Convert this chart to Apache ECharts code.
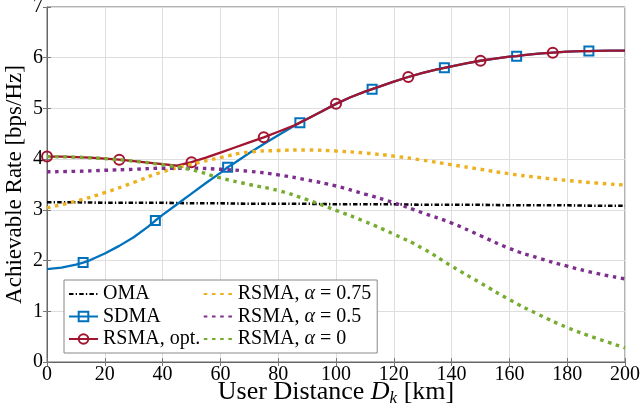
<!DOCTYPE html>
<html><head><meta charset="utf-8">
<script src="https://cdn.jsdelivr.net/npm/echarts@6/dist/echarts.min.js"></script>
<style>html,body{margin:0;padding:0;background:#fff}#c{width:640px;height:411px}</style>
</head><body><div id="c"></div>
<script>
// ---- data ----
const xTicks = [0,20,40,60,80,100,120,140,160,180,200];
const yTicks = [0,1,2,3,4,5,6,7];

const distDot = [0,10,20,30,40,50,60,70,80,90,100,110,120,130,140,150,160,170,180,190,200];
const omaRate  = [3.15,3.15,3.14,3.14,3.14,3.13,3.13,3.12,3.12,3.12,3.11,3.11,3.11,3.10,3.10,3.10,3.09,3.09,3.09,3.08,3.08];
const rsma075  = [3.04,3.17,3.34,3.54,3.75,3.90,4.03,4.14,4.17,4.18,4.16,4.12,4.06,3.98,3.89,3.80,3.71,3.64,3.58,3.53,3.49];
const rsma05   = [3.75,3.76,3.78,3.80,3.82,3.82,3.80,3.76,3.69,3.59,3.47,3.31,3.14,2.94,2.74,2.49,2.24,2.05,1.89,1.75,1.64];
const rsma0    = [4.05,4.04,4.01,3.96,3.89,3.79,3.63,3.50,3.38,3.20,2.99,2.77,2.52,2.24,1.89,1.56,1.23,0.94,0.68,0.47,0.28];

const sdmaDist = [0,5,10,12.5,15,20,25,30,35,37.5,40,45,50,55,60,62.5,65,70,75,80,85,87.5,90,95,100,105,110,112.5,115,120,125,130,135,137.5,140,145,150,155,160,162.5,165,170,175,180,185,187.5,190,195,200];
const sdmaRate = [1.83,1.86,1.92,1.96,2.01,2.14,2.29,2.46,2.67,2.79,2.90,3.11,3.32,3.53,3.73,3.84,3.93,4.12,4.30,4.47,4.64,4.72,4.79,4.94,5.09,5.22,5.33,5.38,5.43,5.53,5.62,5.70,5.77,5.80,5.83,5.89,5.94,5.98,6.02,6.03,6.05,6.08,6.10,6.12,6.13,6.13,6.135,6.14,6.14];
const sdmaMarkers = [12.5,37.5,62.5,87.5,112.5,137.5,162.5,187.5];

const optDist = [0,5,10,15,20,25,30,35,40,45,50,55,60,65,70,75,80,85,87.5,90,95,100,105,110,112.5,115,120,125,130,135,137.5,140,145,150,155,160,162.5,165,170,175,180,185,187.5,190,195,200];
const optRate = [4.05,4.05,4.04,4.03,4.01,3.99,3.96,3.93,3.90,3.87,3.94,4.03,4.13,4.23,4.33,4.43,4.54,4.65,4.72,4.79,4.94,5.09,5.22,5.33,5.38,5.43,5.53,5.62,5.70,5.77,5.80,5.83,5.89,5.94,5.98,6.02,6.03,6.05,6.08,6.10,6.12,6.13,6.13,6.135,6.14,6.14];
const optMarkers = [0,25,50,75,100,125,150,175];

const names = ['OMA','SDMA','RSMA, opt.','RSMA, α = 0.75','RSMA, α = 0.5','RSMA, α = 0'];

// ---- build ----
const FONT = 'Liberation Serif';
function pairs(xs, ys, marks) {
  return xs.map((x, i) => {
    const d = { value: [x, ys[i]] };
    if (marks && marks.indexOf(x) < 0) d.symbol = 'none';
    return d;
  });
}
const dotStyle = (c) => ({ color: c, width: 3.4, type: [3.6, 4.6], cap: 'butt' });
const noSym = { color: 'rgba(0,0,0,0)', borderWidth: 0 };

const chart = echarts.init(document.getElementById('c'), null, { renderer: 'canvas' });
chart.setOption({
  animation: false,
  backgroundColor: '#fff',
  grid: { left: 47, right: 15, top: 7, bottom: 49, outerBoundsMode: 'none', containLabel: false,
          show: true, borderColor: '#666', borderWidth: 1, backgroundColor: 'transparent' },
  legend: {
    orient: 'vertical', left: 64, top: 280, height: 68,
    padding: [4, 6, 4, 4], itemGap: 2.5, itemWidth: 29, itemHeight: 12,
    backgroundColor: '#fff', borderColor: '#888', borderWidth: 1, borderRadius: 0,
    data: [
      { name: names[0], itemStyle: noSym },
      { name: names[1] },
      { name: names[2] },
      { name: names[3], itemStyle: noSym },
      { name: names[4], itemStyle: noSym },
      { name: names[5], itemStyle: noSym }
    ],
    formatter: (n) => n.replace('α', '{i|α}'),
    textStyle: { fontFamily: FONT, fontSize: 20, color: '#000',
      rich: { i: { fontFamily: FONT, fontStyle: 'italic', fontSize: 20, color: '#000' } } }
  },
  xAxis: [{
    type: 'value', min: 0, max: 200, interval: 20,
    name: 'User Distance {i|D}{s|k} [km]', nameLocation: 'middle', nameGap: 15, nameMoveOverlap: false,
    nameTextStyle: { fontFamily: FONT, fontSize: 26, color: '#000', lineHeight: 30, verticalAlign: 'top',
      rich: { i: { fontFamily: FONT, fontStyle: 'italic', fontSize: 26, color: '#000', lineHeight: 30 },
              s: { fontFamily: FONT, fontStyle: 'italic', fontSize: 17, color: '#000', lineHeight: 17, verticalAlign: 'bottom' } } },
    axisLine: { show: true, lineStyle: { color: '#666', width: 1 } },
    axisTick: { show: true, inside: true, length: 4, lineStyle: { color: '#777' } },
    axisLabel: { fontFamily: FONT, fontSize: 20, color: '#000', margin: 3,
      formatter: (v) => xTicks.indexOf(v) >= 0 ? String(v) : '' },
    splitLine: { show: true, lineStyle: { color: '#dedede', width: 1 } }
  }, {
    type: 'value', min: 0, max: 200, interval: 20, position: 'top',
    axisLine: { show: false }, axisLabel: { show: false }, splitLine: { show: false },
    axisTick: { show: true, inside: true, length: 4, lineStyle: { color: '#777' } }
  }],
  yAxis: [{
    type: 'value', min: 0, max: 7, interval: 1,
    name: 'Achievable Rate [bps/Hz]', nameLocation: 'middle', nameRotate: 90, nameGap: 21, nameMoveOverlap: false,
    nameTextStyle: { fontFamily: FONT, fontSize: 23, color: '#000' },
    axisLine: { show: true, lineStyle: { color: '#666', width: 1 } },
    axisTick: { show: true, inside: true, length: 4, lineStyle: { color: '#777' } },
    axisLabel: { fontFamily: FONT, fontSize: 20, color: '#000', margin: 4,
      formatter: (v) => yTicks.indexOf(v) >= 0 ? String(v) : '' },
    splitLine: { show: true, lineStyle: { color: '#dedede', width: 1 } }
  }, {
    type: 'value', min: 0, max: 7, interval: 1, position: 'right',
    axisLine: { show: false }, axisLabel: { show: false }, splitLine: { show: false },
    axisTick: { show: true, inside: true, length: 4, lineStyle: { color: '#777' } }
  }],
  series: [
    { name: names[0], type: 'line', z: 2, symbol: 'none', smooth: false,
      data: pairs(distDot, omaRate),
      lineStyle: { color: '#000', width: 2.6, type: [4.5, 2.2, 1.3, 2.2] }, itemStyle: { color: '#000' } },
    { name: names[1], type: 'line', z: 3, symbol: 'rect', symbolSize: 9, showAllSymbol: true, smooth: false,
      data: pairs(sdmaDist, sdmaRate, sdmaMarkers),
      lineStyle: { color: '#0072BD', width: 2.3 },
      itemStyle: { color: 'rgba(255,255,255,0)', borderColor: '#0072BD', borderWidth: 2 } },
    { name: names[2], type: 'line', z: 4, symbol: 'circle', symbolSize: 10, showAllSymbol: true, smooth: false,
      data: pairs(optDist, optRate, optMarkers),
      lineStyle: { color: '#A2142F', width: 2.3 },
      itemStyle: { color: 'rgba(255,255,255,0)', borderColor: '#A2142F', borderWidth: 2 } },
    { name: names[3], type: 'line', z: 5, symbol: 'none', smooth: true,
      data: pairs(distDot, rsma075), lineStyle: dotStyle('#EDB120'), itemStyle: { color: '#EDB120' } },
    { name: names[4], type: 'line', z: 5, symbol: 'none', smooth: true,
      data: pairs(distDot, rsma05), lineStyle: dotStyle('#7E2F8E'), itemStyle: { color: '#7E2F8E' } },
    { name: names[5], type: 'line', z: 5, symbol: 'none', smooth: true,
      data: pairs(distDot, rsma0), lineStyle: dotStyle('#77AC30'), itemStyle: { color: '#77AC30' } }
  ]
});
</script></body></html>
